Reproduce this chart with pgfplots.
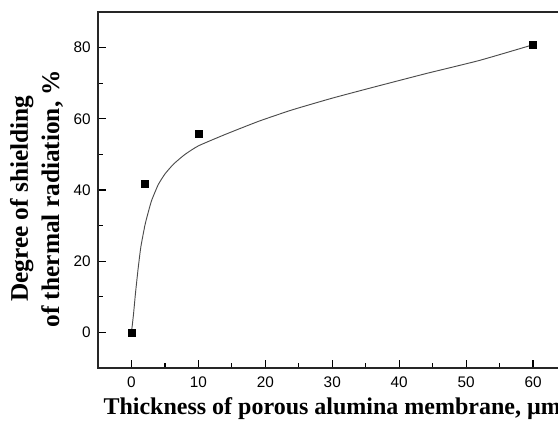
\documentclass[border=0pt]{standalone}
\usepackage{fontspec}
\setmainfont{Liberation Serif}
\setsansfont{Liberation Sans}
\usepackage{pgfplots}
\pgfplotsset{compat=1.18}
\begin{document}
\begin{tikzpicture}
\begin{scope}
\clip (-73.5pt,-39.75pt) rectangle (345pt,276pt);
\begin{axis}[
  at={(0,0)}, anchor=south west,
  scale only axis, width=351.4pt, height=267pt,
  xmin=-5, xmax=65, ymin=-10, ymax=90,
  xtick={0,10,...,60}, ytick={0,20,...,80},
  minor x tick num=1, minor y tick num=1,
  xtick pos=bottom, ytick pos=left,
  xtick align=inside, ytick align=inside,
  major tick length=6pt, minor tick length=3.5pt,
  every tick/.style={black, line width=0.9pt},
  axis line style={line width=1.2pt, black!85},
  /pgf/number format/assume math mode=true,
  ticklabel style={font=\sffamily\fontsize{11.5}{13}\selectfont},
  xticklabel style={yshift=-3pt},
  yticklabel style={xshift=-2pt},
  xlabel={Thickness of porous alumina membrane, µm},
  xlabel style={font=\bfseries\fontsize{18}{21}\selectfont, at={(axis description cs:0.5,0)}, anchor=base, yshift=-35pt, inner sep=0pt},
  ylabel={Degree of shielding\\of thermal radiation, \%},
  ylabel style={font=\bfseries\fontsize{19}{23.5}\selectfont, align=center, at={(axis description cs:0,0.5)}, anchor=south, rotate=0, yshift=26pt, xshift=-6.5pt, inner sep=0pt},
  clip=false,
]
\addplot[black!70, line width=0.7pt, smooth, tension=0.3] coordinates {
 (0,0) (0.3,5) (0.6,11) (1,18) (1.4,24) (2,30) (2.4,33) (3,37) (4,41.5) (5,44.5)
 (6.3,47.3) (8,50) (10,52.4) (14,55.6) (19,59.3) (24,62.5) (30,65.8) (36,68.8)
 (44,72.7) (52,76.4) (60,80.8)
};
\addplot[only marks, mark=square*, mark size=2.6pt, black] coordinates {
 (0,0) (2,41.8) (10,55.9) (60,80.8)
};
\end{axis}
\end{scope}
\pgfresetboundingbox
\useasboundingbox (-73.5pt,-39.75pt) rectangle (345pt,276pt);
\end{tikzpicture}
\end{document}
